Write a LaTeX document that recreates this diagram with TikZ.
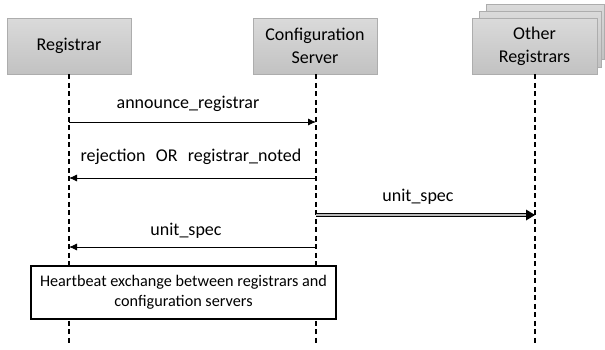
\documentclass[tikz,border=0pt]{standalone}
\usepackage{fontspec}
\setmainfont{Carlito}
\usetikzlibrary{arrows.meta,calc}
\definecolor{boxtop}{HTML}{DADADA}
\definecolor{boxbot}{HTML}{C2C2C2}
\definecolor{boxline}{HTML}{ADADAD}
\tikzset{
  actor/.style={rectangle, draw=boxline, line width=0.7pt, top color=boxtop, bottom color=boxbot,
    minimum width=124pt, minimum height=56pt, align=center, inner sep=0pt,
    font=\fontsize{18}{23}\selectfont},
  backbox/.style={rectangle, draw=boxline, line width=0.7pt, top color=boxtop, bottom color=boxbot,
    inner sep=0pt},
  lifeline/.style={line width=1.3pt, dash pattern=on 5pt off 3.5pt},
  msg/.style={line width=0.8pt, -{Latex[length=8pt,width=7pt]}},
  lbl/.style={font=\fontsize{18}{22}\selectfont, inner sep=0pt, anchor=base},
  notebox/.style={rectangle, draw=black, line width=1.2pt, fill=white, align=center,
    minimum width=305pt, minimum height=53pt, inner sep=0pt,
    font=\fontsize{16.2}{20}\selectfont},
  dbl/.style={line width=0.9pt, double=gray!55, double distance=2.4pt}
}
\begin{document}
\begin{tikzpicture}[x=1pt,y=-1pt]
\useasboundingbox (0,0) rectangle (605,349);
% back boxes of Other Registrars
\node[backbox, minimum width=118pt, minimum height=55pt] (ob3) at (545,31.5) {};
\node[backbox, minimum width=122pt, minimum height=56pt] (ob2) at (540,39) {};
% actors
\node[actor] (reg) at (69,46) {Registrar};
\node[actor] (cfg) at (315,46) {Configuration\\Server};
\node[actor, minimum width=125pt] (oth) at (534.5,46) {Other\\Registrars};
% lifeline ends
\coordinate (regEnd) at (69,345);
\coordinate (cfgEnd) at (316,345);
\coordinate (othEnd) at (535,345);
\draw[lifeline] (reg.south) -- (regEnd);
\draw[lifeline] ([xshift=1pt]cfg.south) -- (cfgEnd);
\draw[lifeline] ([xshift=0.5pt]oth.south) -- (othEnd);
% message points
\coordinate (r1) at (69,122);
\coordinate (c1) at (316,122);
\coordinate (r2) at (69,178);
\coordinate (c2) at (316,178);
\coordinate (c3) at (316,215);
\coordinate (o3) at (535,215);
\coordinate (r4) at (69,247);
\coordinate (c4) at (316,247);
% messages
\draw[msg] (r1) -- (c1);
\node[lbl] (l1) at (188,108.5) {announce\_registrar};
\draw[msg] (c2) -- (r2);
\node[lbl] (l2) at (191,161.5) {rejection\hspace{0.35em} OR\hspace{0.35em} registrar\_noted};
\draw[dbl] (c3) -- ($(o3)+(-8,0)$);
\fill (o3) -- ($(o3)+(-9,-5.5)$) -- ($(o3)+(-9,5.5)$) -- cycle;
\node[lbl] (l3) at (418,201.5) {unit\_spec};
\draw[msg] (c4) -- (r4);
\node[lbl] (l4) at (186,235.5) {unit\_spec};
% note
\node[notebox] (hb) at (183.5,292.5) {Heartbeat exchange between registrars and\\configuration servers};
\end{tikzpicture}
\end{document}
